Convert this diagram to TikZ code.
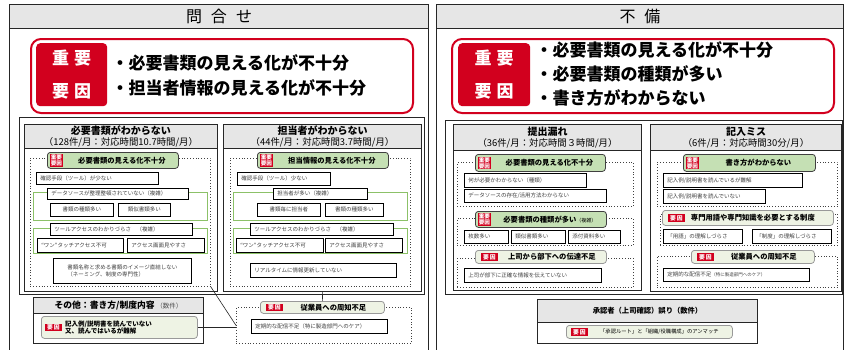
\documentclass[tikz,border=0pt]{standalone}
\usepackage{fontspec}
\setmainfont{Noto Sans CJK JP}
\usetikzlibrary{calc}
\definecolor{myred}{HTML}{D2001E}
\definecolor{hdrgray}{HTML}{E6E6E6}
\definecolor{grnfill}{HTML}{C5E0B4}
\definecolor{lgfill}{HTML}{EEF3E4}
\definecolor{grnline}{HTML}{8CC168}
\newcommand\boxat[7][]{%
 \pgfmathsetmacro\bw{#5-#3}\pgfmathsetmacro\bh{#6-#4}%
 \node[anchor=north west, inner sep=0pt, minimum width=\bw pt, minimum height=\bh pt, #1] (#2) at (#3,#4) {#7};}
\newcommand\boxatl[7][]{%
 \pgfmathsetmacro\bw{#5-#3}\pgfmathsetmacro\bh{#6-#4}\pgfmathsetmacro\tw{#5-#3-8}%
 \node[anchor=north west, minimum width=\bw pt, minimum height=\bh pt, #1, inner xsep=4pt, inner ysep=0pt, text width=\tw pt, align=left] (#2) at (#3,#4) {#7};}
\tikzset{
 panel/.style={draw=black!85, line width=1.4pt},
 hdr/.style={draw=black!85, fill=hdrgray, line width=1pt},
 subp/.style={draw=black!85, line width=1.2pt},
 cont/.style={draw=black!85, line width=1.1pt},
 dotbox/.style={draw=black!75, dotted, line width=0.8pt},
 grp/.style={draw=grnline, line width=0.8pt},
 cell/.style={draw=black, line width=0.7pt, fill=white, text=black!75, font=\fontsize{5.5}{6.6}\selectfont},
 keyg/.style={draw=black!75, fill=grnfill, rounded corners=3pt, line width=0.8pt, font=\bfseries\fontsize{7.3}{8}\selectfont},
 keyl/.style={draw=black!40, fill=lgfill, rounded corners=3pt, line width=0.8pt, font=\bfseries\fontsize{7.3}{8}\selectfont},
 tagA/.style={fill=myred, text=white, align=center, inner sep=0.6pt, font=\bfseries\fontsize{5.6}{6}\selectfont},
 tagB/.style={fill=myred, text=white, inner xsep=2pt, inner ysep=1pt, font=\bfseries\fontsize{5.8}{6}\selectfont},
 bigred/.style={draw=myred, line width=2pt, rounded corners=10pt},
 redtag/.style={fill=myred, rounded corners=4pt, text=white, align=center, font=\bfseries\fontsize{17}{33}\selectfont},
 bigtxt/.style={anchor=west, align=left, font=\bfseries\fontsize{17}{25}\selectfont},
 conn/.style={draw=black!85, line width=0.6pt}
}
\begin{document}
\begin{tikzpicture}[x=1pt,y=-1pt]
\useasboundingbox (0,0) rectangle (844,349);
% ===== left panel =====
\boxat[panel]{pL}{9}{4}{428}{352}{}
\boxat[hdr, font=\fontsize{16}{18}\selectfont]{pLh}{9}{4}{428}{28}{問\hspace{9pt}合\hspace{9pt}せ}
\boxat[bigred]{rbL}{30}{38}{412}{112}{}
\boxat[redtag]{rtL}{36}{43}{107}{106}{重\hspace{5pt}要\\要\hspace{5pt}因}
\node[bigtxt] (txL) at (108,75) {・必要書類の見える化が不十分\\・担当者情報の見える化が不十分};
\boxat[cont]{cL}{19}{117}{424}{294}{}
% sub panel 1
\boxat[subp]{s1}{24}{124}{217}{291}{}
\boxat[hdr, align=center]{s1h}{24}{124}{217}{148}{{\bfseries\fontsize{10}{11}\selectfont 必要書類がわからない}\\[-1pt]{\fontsize{9.4}{10}\selectfont （128件/月：対応時間10.7時間/月）}}
\boxat[dotbox]{dot1}{30}{158}{210}{286}{}
\boxat[keyg]{k1}{47}{152}{178}{168}{\hspace*{18pt}必要書類の見える化不十分}
\node[tagA, anchor=west] (t1) at ([xshift=3pt]k1.west) {重要\\要因};
\boxatl[cell]{a1}{36}{172}{158}{184}{確認手段（ツール）が少ない}
\boxat[grp]{g1}{33}{192}{207}{220}{}
\boxatl[cell]{g1t}{47}{188}{188}{199}{データソースが整理整頓されていない（複雑）}
\boxat[cell]{a2}{50}{203}{113}{216}{書類の種類多い}
\boxat[cell]{a3}{118}{203}{170}{216}{類似書類多い}
\boxat[grp]{g2}{33}{228}{207}{253}{}
\boxatl[cell]{g2t}{50}{223}{192}{235}{ツールアクセスのわかりづらさ　（複雑）}
\boxatl[cell]{a4}{37}{238}{123}{252}{“ワン”タッチアクセス不可}
\boxatl[cell]{a5}{127}{238}{204}{252}{アクセス画面見やすさ}
\boxat[cell, align=left]{a6}{53}{258}{191}{283}{書類名称と求める書類のイメージ直結しない\\（ネーミング、制度の専門性）}
% sub panel 2
\boxat[subp]{s2}{223}{124}{421}{291}{}
\boxat[hdr, align=center]{s2h}{223}{124}{421}{148}{{\bfseries\fontsize{10}{11}\selectfont 担当者がわからない}\\[-1pt]{\fontsize{9.4}{10}\selectfont （44件/月：対応時間3.7時間/月）}}
\boxat[dotbox]{dot2}{230}{158}{410}{286}{}
\boxat[keyg]{k2}{257}{152}{388}{168}{\hspace*{18pt}担当情報の見える化不十分}
\node[tagA, anchor=west] (t2) at ([xshift=3pt]k2.west) {重要\\要因};
\boxatl[cell]{b1}{237}{172}{330}{185}{確認手段（ツール）少ない}
\boxat[grp]{g3}{233}{192}{407}{220}{}
\boxatl[cell]{g3t}{273}{188}{367}{199}{担当者が多い（複雑）}
\boxat[cell]{b2}{257}{203}{320}{216}{書類毎に担当者}
\boxat[cell]{b3}{325}{203}{383}{216}{書類の種類多い}
\boxat[grp]{g4}{233}{228}{407}{253}{}
\boxatl[cell]{g4t}{250}{223}{393}{235}{ツールアクセスのわかりづらさ　（複雑）}
\boxatl[cell]{b4}{236}{238}{323}{252}{“ワン”タッチアクセス不可}
\boxatl[cell]{b5}{325}{238}{402}{252}{アクセス画面見やすさ}
\boxatl[cell]{b6}{250}{263}{396}{277}{リアルタイムに情報更新していない}
% その他
\boxat[subp]{oth}{33}{297}{203}{343}{}
\boxat[hdr]{othh}{33}{297}{203}{313}{{\bfseries\fontsize{8.8}{10}\selectfont その他：書き方/制度内容}\,{\fontsize{6.5}{8}\selectfont\color{black!70}（数件）}}
\boxat[keyl]{othin}{41}{316}{197}{338}{}
\node[tagB, anchor=west] (t3) at ([xshift=4pt]othin.west) {要\,因};
\node[anchor=west, align=left, inner sep=0pt, font=\bfseries\fontsize{6.5}{7.5}\selectfont] (othtx) at ([xshift=24pt]othin.west) {記入例/説明書を読んでいない\\又、読んではいるが難解};
% 従業員
\boxat[dotbox]{emp}{236}{307}{411}{343}{}
\boxat[keyl]{empk}{260}{301}{384}{313}{\hspace*{22pt}従業員への周知不足}
\node[tagB, anchor=west] (t4) at ([xshift=6pt]empk.west) {要\,因};
\boxatl[cell]{c1}{251}{319}{387}{333}{定期的な配信不足（特に製造部門へのケア）}
\draw[conn] (dot1.south east) -- (emp.west);
\draw[conn] (othin.east) -- (othin.east -| emp.west);
\draw[conn] (s2.south) -- (empk.north);
% ===== right panel =====
\boxat[panel]{pR}{436}{4}{843}{352}{}
\boxat[hdr, font=\fontsize{16}{18}\selectfont]{pRh}{436}{4}{843}{28}{不\hspace{9pt}備}
\boxat[bigred]{rbR}{451}{38}{833}{112}{}
\boxat[redtag]{rtR}{458}{43}{530}{106}{重\hspace{5pt}要\\要\hspace{5pt}因}
\node[bigtxt, font=\bfseries\fontsize{17}{24}\selectfont] (txR) at (532,74) {・必要書類の見える化が不十分\\・必要書類の種類が多い\\・書き方がわからない};
\boxat[cont]{cR}{445}{120}{842}{294}{}
% 提出漏れ
\boxat[subp]{s3}{453}{124}{641}{290}{}
\boxat[hdr, align=center]{s3h}{453}{124}{641}{150}{{\bfseries\fontsize{10}{11}\selectfont 提出漏れ}\\[-1pt]{\fontsize{9.4}{10}\selectfont （36件/月：対応時間３時間/月）}}
\boxat[dotbox]{dA}{457}{162}{633}{206}{}
\boxat[keyg]{kA}{475}{154}{605}{171}{\hspace*{18pt}必要書類の見える化不十分}
\node[tagA, anchor=west] (tA) at ([xshift=3pt]kA.west) {重要\\要因};
\boxatl[cell]{e1}{464}{173}{586}{187}{何が必要かわからない（種類）}
\boxatl[cell]{e2}{464}{189}{606}{202}{データソースの存在/活用方法わからない}
\boxat[dotbox]{dB}{457}{218}{633}{245}{}
\boxat[keyg]{kB}{475}{211}{606}{227}{\hspace*{18pt}必要書類の種類が多い{\mdseries\fontsize{5}{6}\selectfont （複雑）}}
\node[tagA, anchor=west] (tB) at ([xshift=3pt]kB.west) {重要\\要因};
\boxatl[cell]{e3}{464}{230}{508}{243}{枚数多い}
\boxatl[cell]{e4}{511}{230}{565}{243}{類似書類多い}
\boxatl[cell]{e5}{568}{230}{620}{243}{添付資料多い}
\boxat[dotbox]{dC}{457}{258}{633}{287}{}
\boxat[keyl]{kC}{475}{250}{606}{263}{\hspace*{22pt}上司から部下への伝達不足}
\node[tagB, anchor=west] (tC) at ([xshift=6pt]kC.west) {要\,因};
\boxatl[cell]{e6}{464}{268}{601}{282}{上司が部下に正確な情報を伝えていない}
% 記入ミス
\boxat[subp]{s4}{650}{124}{841}{291}{}
\boxat[hdr, align=center]{s4h}{650}{124}{841}{150}{{\bfseries\fontsize{10}{11}\selectfont 記入ミス}\\[-1pt]{\fontsize{9.4}{10}\selectfont （6件/月：対応時間30分/月）}}
\boxat[dotbox]{dD}{657}{162}{837}{206}{}
\boxat[keyg]{kD}{683}{154}{815}{171}{\hspace*{18pt}書き方がわからない}
\node[tagA, anchor=west] (tD) at ([xshift=3pt]kD.west) {重要\\要因};
\boxatl[cell]{f1}{663}{173}{802}{187}{記入例/説明書を読んでいるが難解}
\boxatl[cell]{f2}{663}{189}{765}{203}{記入例/説明書を読んでいない}
\boxat[dotbox]{dE}{660}{214}{837}{245}{}
\boxat[keyl]{kE}{662}{210}{833}{225}{\hspace*{10pt}専門用語や専門知識を必要とする制度}
\node[tagB, anchor=west] (tE) at ([xshift=6pt]kE.west) {要\,因};
\boxatl[cell]{f3}{663}{229}{742}{243}{「用語」の理解しづらさ}
\boxatl[cell]{f4}{752}{229}{831}{243}{「制度」の理解しづらさ}
\boxat[dotbox]{dF}{657}{256}{837}{287}{}
\boxat[keyl]{kF}{691}{250}{814}{263}{\hspace*{22pt}従業員への周知不足}
\node[tagB, anchor=west] (tF) at ([xshift=6pt]kF.west) {要\,因};
\boxatl[cell]{f5}{663}{268}{809}{281}{定期的な配信不足{\fontsize{4.5}{5}\selectfont （特に製造部門へのケア）}}
% 承認者
\boxat[subp]{apr}{537}{299}{757}{343}{}
\boxat[hdr, font=\bfseries\fontsize{7.3}{8}\selectfont]{aprh}{537}{299}{757}{322}{承認者（上司確認）誤り（数件）}
\boxat[keyl, font=\fontsize{5.3}{6}\selectfont]{aprin}{566}{325}{732}{338}{\hspace*{20pt}「承認ルート」と「組織/役職構成」のアンマッチ}
\node[tagB, anchor=west] (tG) at ([xshift=5pt]aprin.west) {要\,因};
\end{tikzpicture}
\end{document}
